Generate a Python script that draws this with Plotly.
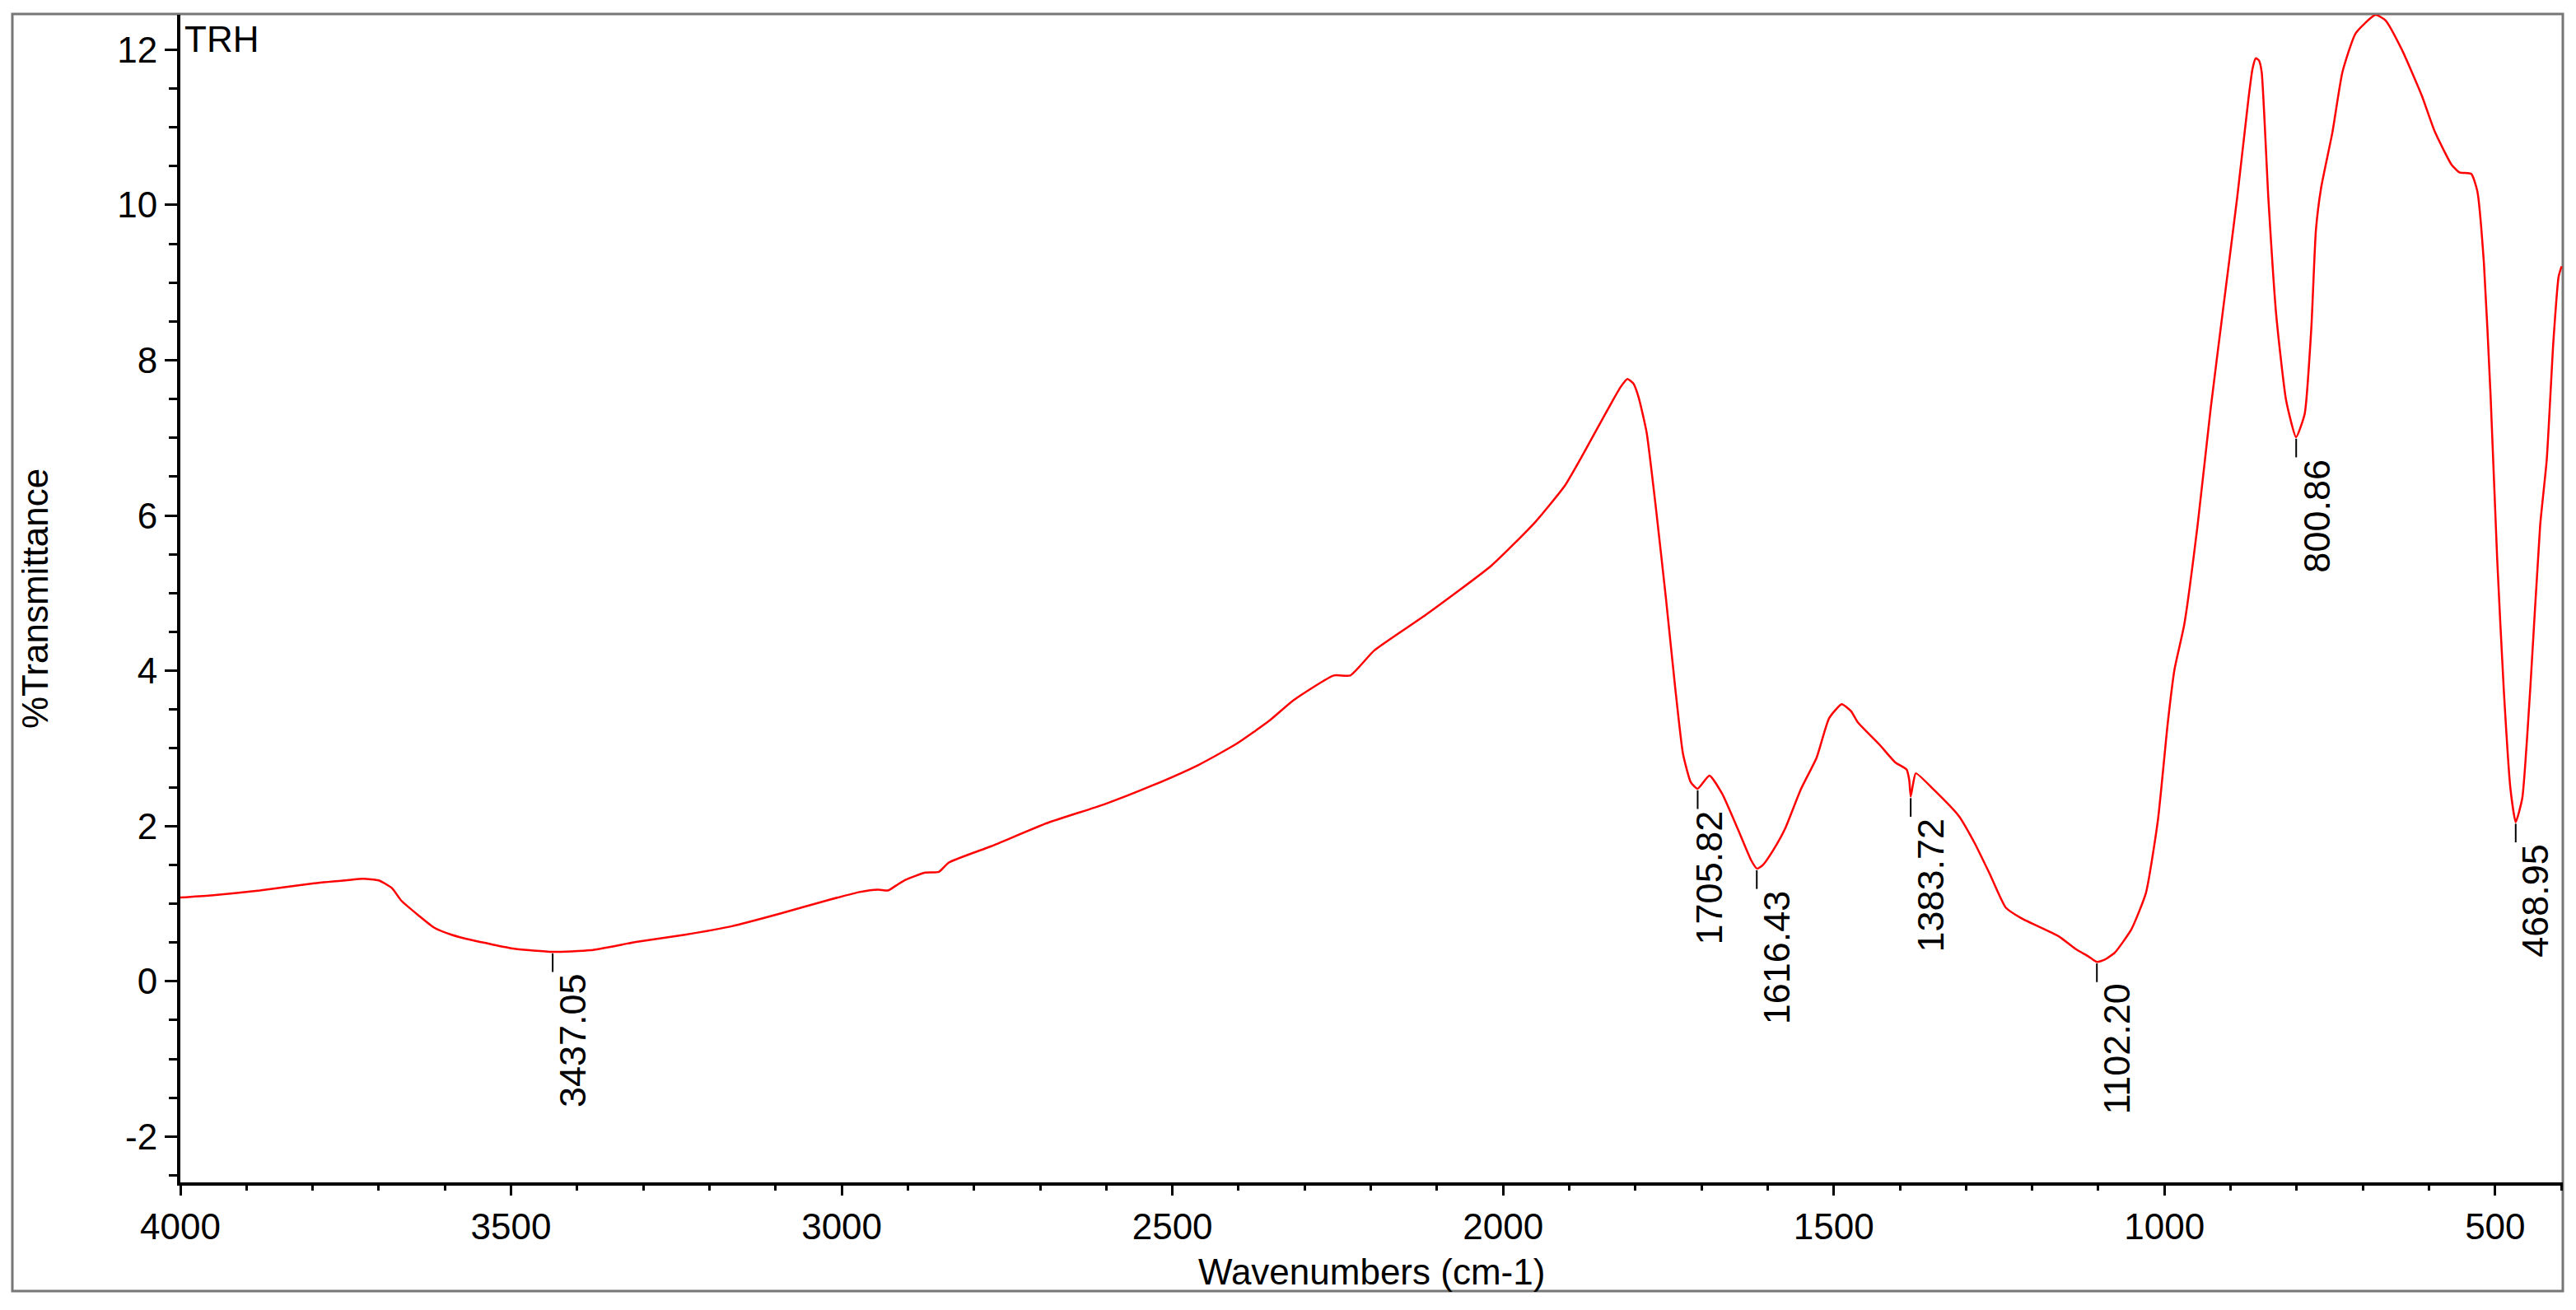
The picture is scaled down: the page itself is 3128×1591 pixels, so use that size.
import plotly.graph_objects as go

# ---- spectrum data ----
wavenumber = [4000, 3950, 3880, 3800, 3750, 3723, 3700, 3680, 3666, 3640, 3616, 3590, 3559, 3495,
              3437, 3380, 3309, 3237, 3166, 3094, 3023, 2973, 2945, 2930, 2915, 2903, 2874, 2853,
              2838, 2774, 2689, 2603, 2531, 2460, 2403, 2353, 2317, 2256, 2231, 2195, 2117, 2017,
              1952, 1907, 1883, 1859, 1835, 1822, 1812, 1803, 1795, 1783, 1769, 1754, 1740, 1728,
              1716, 1706, 1688, 1669, 1645, 1625, 1616, 1607, 1593, 1574, 1550, 1526, 1507, 1488,
              1474, 1464, 1431, 1407, 1390, 1386, 1383.7, 1380, 1376, 1349, 1311, 1287, 1264, 1240,
              1216, 1160, 1135, 1115, 1102, 1090, 1075, 1050, 1028, 1010, 995, 985, 970, 950, 930,
              910, 890, 873, 867, 862, 857, 853, 843, 831, 816, 801, 788, 778, 771, 763, 746, 731,
              711, 681, 666, 641, 611, 591, 566, 554, 536, 527, 517, 507, 497, 487, 477, 469, 459,
              447, 432, 422, 412, 404, 399.5]
transmittance = [1.08, 1.11, 1.17, 1.26, 1.30, 1.32, 1.30, 1.20, 1.04, 0.85, 0.69, 0.60, 0.53, 0.42,
                 0.38, 0.40, 0.51, 0.60, 0.71, 0.87, 1.04, 1.15, 1.18, 1.17, 1.25, 1.31, 1.40, 1.41,
                 1.53, 1.74, 2.04, 2.28, 2.52, 2.79, 3.06, 3.36, 3.62, 3.94, 3.94, 4.26, 4.72, 5.36,
                 5.91, 6.38, 6.73, 7.10, 7.47, 7.66, 7.76, 7.70, 7.52, 7.07, 6.10, 4.95, 3.80, 2.93,
                 2.56, 2.48, 2.65, 2.42, 1.96, 1.56, 1.45, 1.50, 1.67, 1.96, 2.47, 2.88, 3.39, 3.57,
                 3.48, 3.34, 3.05, 2.82, 2.73, 2.60, 2.38, 2.55, 2.68, 2.47, 2.13, 1.78, 1.38, 0.95,
                 0.81, 0.58, 0.42, 0.32, 0.25, 0.28, 0.37, 0.67, 1.14, 2.07, 3.33, 4.01, 4.60, 5.87,
                 7.39, 8.75, 10.10, 11.37, 11.75, 11.89, 11.86, 11.71, 10.10, 8.58, 7.48, 7.01, 7.31,
                 8.41, 9.68, 10.23, 10.94, 11.71, 12.21, 12.45, 12.38, 12.00, 11.41, 10.94, 10.52,
                 10.42, 10.40, 10.18, 9.25, 7.56, 5.45, 3.76, 2.49, 2.05, 2.36, 3.76, 5.87, 6.72, 8.24,
                 9.08, 9.21]

# ---- peak picks ----
peak_positions = [3437.05, 1705.82, 1616.43, 1383.72, 1102.20, 800.86, 468.95]
peak_values = [0.38, 2.48, 1.45, 2.38, 0.25, 7.01, 2.05]
label_xshift = [24, 14, 24, 24, 24, 25, 23]

# ---- tick labels ----
y_tick_values = [-2, 0, 2, 4, 6, 8, 10, 12]
y_tick_labels = ["-2", "0", "2", "4", "6", "8", "10", "12"]
x_tick_values = [4000, 3500, 3000, 2500, 2000, 1500, 1000, 500]
x_tick_labels = ["4000", "3500", "3000", "2500", "2000", "1500", "1000", "500"]

sample_name = "TRH"
x_title = "Wavenumbers (cm-1)"
y_title = "%Transmittance"

FONT = "Liberation Sans, Arial, sans-serif"
W, H = 3128, 1591
ML, MR, MT, MB = 219, 16, 18, 155

fig = go.Figure()
fig.add_trace(go.Scatter(x=wavenumber, y=transmittance, mode="lines",
                         line=dict(color="#ff0000", width=2.5, shape="spline", smoothing=0.5),
                         showlegend=False, hoverinfo="skip"))

marker_len = 0.26
shapes = []
annotations = []
for p, v, s in zip(peak_positions, peak_values, label_xshift):
    shapes.append(dict(type="line", xref="x", yref="y", x0=p, x1=p, y0=v - 0.02, y1=v - marker_len,
                       line=dict(color="black", width=2)))
    annotations.append(dict(x=p, y=v - marker_len, xref="x", yref="y", text=f"{p:.2f}",
                            textangle=-90, xanchor="center", yanchor="top", xshift=s,
                            showarrow=False, font=dict(family=FONT, size=45, color="black")))

plot_w = W - ML - MR
plot_h = H - MT - MB
# outer grey frame
shapes.append(dict(type="rect", xref="paper", yref="paper",
                   x0=(15 - ML) / plot_w, x1=(3112 - ML) / plot_w,
                   y0=(H - MB - 1568) / plot_h, y1=(H - MB - 17) / plot_h,
                   line=dict(color="#777777", width=3), fillcolor="rgba(0,0,0,0)", layer="below"))

annotations.append(dict(x=0, y=1, xref="paper", yref="paper", text=sample_name, xanchor="left",
                        yanchor="top", xshift=3, yshift=-3, showarrow=False,
                        font=dict(family=FONT, size=44, color="black")))
annotations.append(dict(x=0.5, y=(H - MB - 1544) / plot_h, xref="paper", yref="paper", text=x_title,
                        xanchor="center", yanchor="middle", showarrow=False,
                        font=dict(family=FONT, size=44, color="black")))
annotations.append(dict(x=(42 - ML) / plot_w, y=0.5, xref="paper", yref="paper", text=y_title,
                        textangle=-90, xanchor="center", yanchor="middle", showarrow=False,
                        font=dict(family=FONT, size=44, color="black")))

fig.update_layout(
    width=W, height=H,
    margin=dict(l=ML, r=MR, t=MT, b=MB, pad=0),
    paper_bgcolor="white", plot_bgcolor="white",
    shapes=shapes, annotations=annotations,
    font=dict(family=FONT, color="black"),
)
fig.update_xaxes(range=[4000, 397.7], showgrid=False, zeroline=False,
                 showline=True, linecolor="black", linewidth=4,
                 ticks="outside", ticklen=12, tickwidth=3, tickcolor="black",
                 tickmode="array", tickvals=x_tick_values, ticktext=x_tick_labels,
                 tickfont=dict(family=FONT, size=44, color="black"),
                 minor=dict(ticks="outside", ticklen=6, tickwidth=3, tickcolor="black",
                            tick0=0, dtick=100))
fig.update_yaxes(range=[-2.59, 12.45], showgrid=False, zeroline=False,
                 showline=True, linecolor="black", linewidth=4,
                 ticks="outside", ticklen=15, tickwidth=3, tickcolor="black",
                 tickmode="array", tickvals=y_tick_values, ticktext=y_tick_labels,
                 tickfont=dict(family=FONT, size=44, color="black"),
                 minor=dict(ticks="outside", ticklen=10, tickwidth=3, tickcolor="black",
                            tick0=0, dtick=0.5))

fig.write_html("out.html", config={"displayModeBar": False},
               post_script="document.body.style.margin='0';document.body.style.overflow='hidden';")
